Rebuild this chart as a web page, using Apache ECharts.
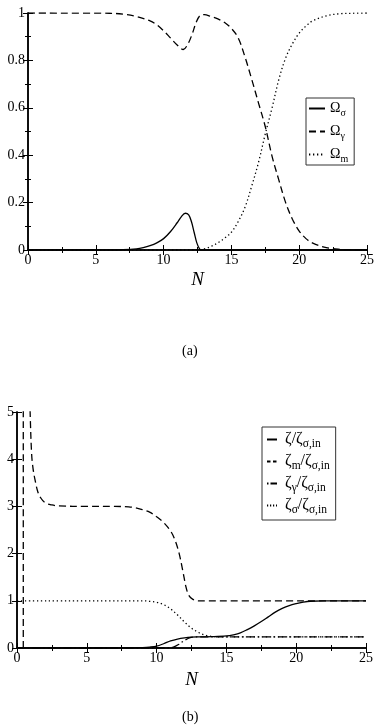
<!DOCTYPE html>
<html>
<head>
<meta charset="utf-8">
<script src="https://cdn.jsdelivr.net/npm/echarts@6/dist/echarts.min.js"></script>
<style>
  html, body { margin: 0; padding: 0; background: #fff; }
  #chart { width: 382px; height: 725px; }
</style>
</head>
<body>
<div id="chart"></div>
<script>
// panel (a): density parameters vs N
const omegaSigma = [[0,0],[6,0],[7,0.001],[8,0.005],[8.5,0.01],[9,0.018],[9.5,0.03],[10,0.048],[10.5,0.077],[11,0.115],[11.3,0.14],[11.6,0.155],[11.85,0.148],[12.05,0.12],[12.25,0.075],[12.45,0.03],[12.65,0.005],[12.8,0],[25,0]];
const omegaGamma = [[0,1],[6,0.999],[7,0.995],[8,0.985],[9,0.967],[9.5,0.95],[10,0.925],[10.5,0.895],[11,0.865],[11.45,0.846],[11.8,0.87],[12.1,0.91],[12.4,0.96],[12.7,0.99],[13,0.993],[13.5,0.985],[14,0.975],[14.5,0.96],[15,0.935],[15.5,0.895],[16,0.815],[16.5,0.72],[17,0.62],[17.5,0.52],[18,0.395],[18.5,0.295],[19,0.2],[19.5,0.13],[20,0.08],[20.5,0.048],[21,0.029],[22,0.01],[23,0.003],[24,0.001],[25,0]];
const omegaM = [[0,0],[12.5,0],[13,0.005],[13.5,0.015],[14,0.03],[14.5,0.05],[15,0.075],[15.5,0.12],[16,0.18],[16.5,0.27],[17,0.37],[17.5,0.49],[18,0.6],[18.5,0.72],[19,0.81],[19.5,0.87],[20,0.915],[20.5,0.945],[21,0.967],[22,0.988],[23,0.997],[24,0.999],[25,1]];

// panel (b): zeta ratios vs N
const zetaTotal = [[0,0],[8,0],[9,0.01],[9.5,0.02],[10,0.04],[10.5,0.09],[11,0.15],[11.5,0.19],[12,0.215],[12.5,0.23],[13,0.235],[14,0.24],[15,0.255],[15.5,0.28],[16,0.32],[16.5,0.39],[17,0.47],[17.5,0.56],[18,0.66],[18.5,0.76],[19,0.84],[19.5,0.9],[20,0.94],[20.5,0.97],[21,0.99],[22,1],[25,1]];
const zetaM = [[0.45,0],[0.46,20],[0.9,5.6],[0.95,4.9],[1.05,4.1],[1.15,3.8],[1.3,3.55],[1.5,3.3],[1.7,3.18],[2,3.08],[2.5,3.03],[3,3.01],[5,3],[7,3],[8,2.99],[8.5,2.97],[9,2.93],[9.5,2.88],[10,2.78],[10.5,2.66],[11,2.48],[11.3,2.3],[11.6,2.02],[11.9,1.6],[12.1,1.3],[12.3,1.12],[12.6,1.03],[13,1],[25,1]];
const zetaGamma = [[0,0],[10.8,0],[11.2,0.02],[11.6,0.08],[12,0.16],[12.4,0.22],[12.8,0.235],[25,0.235]];
const zetaSigma = [[0,1],[9,1],[9.5,0.99],[10,0.97],[10.5,0.92],[11,0.83],[11.5,0.7],[12,0.55],[12.5,0.42],[13,0.33],[13.5,0.27],[14,0.245],[15,0.235],[25,0.235]];

const xTicks = { min: 0, max: 25, interval: 5 };
const yTicksA = { min: 0, max: 1, interval: 0.2 };
const yTicksB = { min: 0, max: 5, interval: 1 };

const serif = 'Liberation Serif';
const legendLabels = {
  'Os': '{b|Ω}{s|σ}',
  'Og': '{b|Ω}{s|γ}',
  'Om': '{b|Ω}{s|m}',
  'z': '{sp|}{b|ζ/ζ}{s|σ,in}',
  'zm': '{sp|}{b|ζ}{s|m}{b|/ζ}{s|σ,in}',
  'zg': '{sp|}{b|ζ}{s|γ}{b|/ζ}{s|σ,in}',
  'zs': '{sp|}{b|ζ}{s|σ}{b|/ζ}{s|σ,in}'
};

function xAxes(grid, withName, gap) {
  const base = {
    type: 'value', gridIndex: grid, min: xTicks.min, max: xTicks.max, interval: xTicks.interval,
    axisLine: { lineStyle: { color: '#000', width: 1.5 } },
    axisTick: { inside: true, length: 5, lineStyle: { color: '#000' } },
    minorTick: { show: true, splitNumber: 2, length: 3, lineStyle: { color: '#000' } },
    splitLine: { show: false }
  };
  return [
    Object.assign({}, base, {
      position: 'bottom',
      axisLabel: { color: '#000', fontFamily: serif, fontSize: 14, margin: 3 },
      name: withName ? 'N' : '', nameLocation: 'middle', nameGap: gap,
      nameTextStyle: { color: '#000', fontFamily: serif, fontStyle: 'italic', fontSize: 19 }
    }),
    Object.assign({}, base, { position: 'top', axisLabel: { show: false } })
  ];
}

function yAxes(grid, t, minor) {
  const base = {
    type: 'value', gridIndex: grid, min: t.min, max: t.max, interval: t.interval,
    axisLine: { show: true, lineStyle: { color: '#000', width: 1.5 } },
    axisTick: { show: true, inside: true, length: 5, lineStyle: { color: '#000' } },
    minorTick: { show: minor, splitNumber: 2, length: 3, lineStyle: { color: '#000' } },
    splitLine: { show: false }
  };
  return [
    Object.assign({}, base, {
      position: 'left',
      axisLabel: { color: '#000', fontFamily: serif, fontSize: 14, margin: 3,
        formatter: v => String(Math.round(v * 10) / 10) }
    }),
    Object.assign({}, base, { position: 'right', axisLabel: { show: false } })
  ];
}

function lineSeries(name, data, xi, yi, type) {
  return {
    name: name, type: 'line', data: data, xAxisIndex: xi, yAxisIndex: yi,
    symbol: 'none', smooth: 0.35, clip: true,
    lineStyle: { color: '#000', width: 1.3, type: type },
    itemStyle: { color: '#000' }
  };
}

const richA = {
  b: { fontFamily: serif, fontSize: 14, color: '#000', lineHeight: 15, verticalAlign: 'top' },
  s: { fontFamily: serif, fontSize: 10, color: '#000', lineHeight: 10, verticalAlign: 'top', padding: [7, 0, 0, 0] }
};
const richB = {
  sp: { width: 3 },
  b: { fontFamily: serif, fontSize: 16, color: '#000', lineHeight: 17, verticalAlign: 'top' },
  s: { fontFamily: serif, fontSize: 11.5, color: '#000', lineHeight: 12, verticalAlign: 'top', padding: [7, 0, 0, 0] }
};

const dashed = [7, 4];
const dotted = [1.3, 2.7];
const dashDot = [8, 3, 1.5, 3];

const hiddenSymbol = { color: 'rgba(0,0,0,0)', borderWidth: 0, opacity: 0 };

const chart = echarts.init(document.getElementById('chart'));
chart.setOption({
  animation: false,
  backgroundColor: '#fff',
  grid: [
    { left: 28, top: 13, width: 339, height: 237 },
    { left: 17, top: 412, width: 349, height: 236 }
  ],
  xAxis: xAxes(0, true, 20).concat(xAxes(1, true, 22)),
  yAxis: yAxes(0, yTicksA, true).concat(yAxes(1, yTicksB, false)),
  legend: [
    {
      data: ['Os', 'Og', 'Om'], orient: 'vertical', left: 306, top: 98,
      itemWidth: 16, itemHeight: 10, itemGap: 6, padding: [3, 6, 1, 2],
      borderColor: '#333', borderWidth: 1, selectedMode: false,
      itemStyle: hiddenSymbol,
      formatter: n => legendLabels[n], textStyle: { rich: richA }
    },
    {
      data: [
        'z',
        { name: 'zm', lineStyle: { type: [3.5, 2.5] } },
        { name: 'zg', lineStyle: { type: [1.5, 2, 6.5, 10] } },
        { name: 'zs', lineStyle: { type: [1.2, 1.8] } }
      ],
      orient: 'vertical', left: 262, top: 427,
      itemWidth: 10, itemHeight: 10, itemGap: 3, padding: [4, 6, 4, 4],
      borderColor: '#333', borderWidth: 1, selectedMode: false,
      itemStyle: hiddenSymbol,
      formatter: n => legendLabels[n], textStyle: { rich: richB }
    }
  ],
  graphic: [
    { type: 'text', left: 182, top: 344, style: { text: '(a)', font: '14px "Liberation Serif"', fill: '#000' } },
    { type: 'text', left: 182, top: 710, style: { text: '(b)', font: '14px "Liberation Serif"', fill: '#000' } }
  ],
  series: [
    lineSeries('Os', omegaSigma, 0, 0, 'solid'),
    lineSeries('Og', omegaGamma, 0, 0, dashed),
    lineSeries('Om', omegaM, 0, 0, dotted),
    lineSeries('z', zetaTotal, 2, 2, 'solid'),
    lineSeries('zm', zetaM, 2, 2, dashed),
    lineSeries('zg', zetaGamma, 2, 2, dashDot),
    lineSeries('zs', zetaSigma, 2, 2, dotted)
  ]
});
</script>
</body>
</html>
